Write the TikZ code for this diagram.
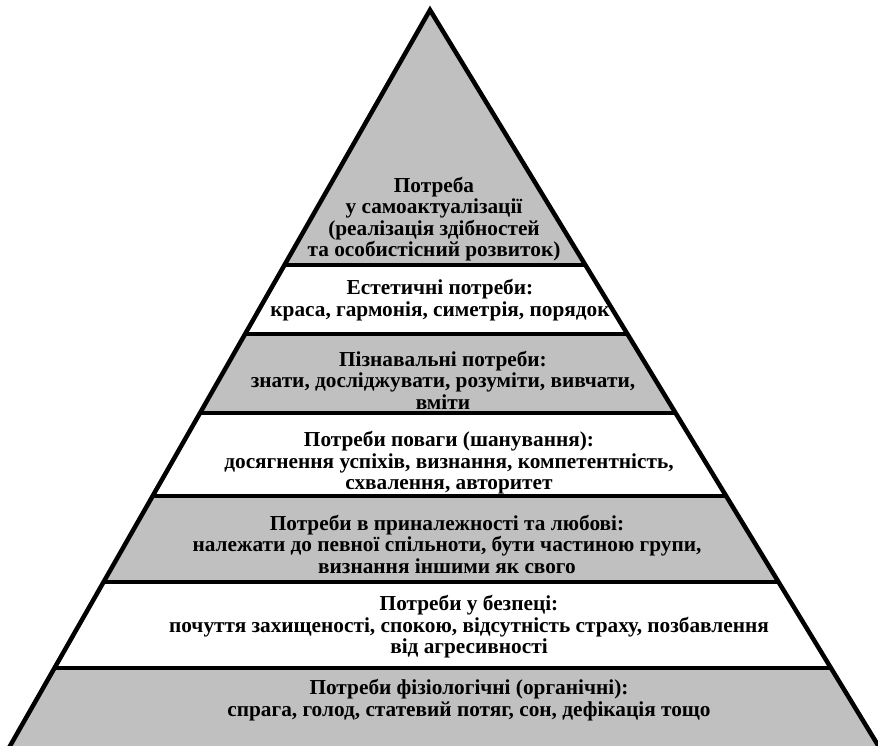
\documentclass[tikz,border=0pt]{standalone}
\usepackage{fontspec}
\setmainfont{Liberation Serif}
\definecolor{pyrgray}{RGB}{192,192,192}
\tikzset{
  tier/.style={font=\bfseries\fontsize{21.3}{21.5}\selectfont, align=center, inner sep=0pt},
  edge line/.style={line width=4.5pt, line join=miter}
}

\begin{document}
\begin{tikzpicture}[x=1pt,y=-1pt]
  \useasboundingbox (0,0) rectangle (878,746);
  \clip (0,0) rectangle (878,746);
  \coordinate (apex) at (430,10);
  \coordinate (bl) at (2,760);
  \coordinate (br) at (887,760);
  \fill[pyrgray] (apex) -- (bl) -- (br) -- cycle;
  \begin{scope}
    \clip (apex) -- (bl) -- (br) -- cycle;
    \foreach \ya/\yb in {265/334, 413/496, 582/668}
      \fill[white] (0,\ya) rectangle (878,\yb);
    \foreach \y in {265,334,413,496,582,668}
      \draw[edge line] (0,\y) -- (878,\y);
  \end{scope}
  \draw[edge line] (bl) -- (apex) -- (br);
  \node[tier] (selfact) at (434,219) {Потреба\\у самоактуалізації\\(реалізація здібностей\\та особистісний розвиток)};
  \node[tier] (aesth) at (440,300) {Естетичні потреби:\\краса, гармонія, симетрія, порядок};
  \node[tier] (cogn) at (443,380) {Пізнавальні потреби:\\знати, досліджувати, розуміти, вивчати,\\вміти};
  \node[tier] (esteem) at (449,463) {Потреби поваги (шанування):\\досягнення успіхів, визнання, компетентність,\\схвалення, авторитет};
  \node[tier] (belong) at (447,544) {Потреби в приналежності та любові:\\належати до певної спільноти, бути частиною групи,\\визнання іншими як свого};
  \node[tier] (safety) at (469,627) {Потреби у безпеці:\\почуття захищеності, спокою, відсутність страху, позбавлення\\від агресивності};
  \node[tier] (physio) at (469,700) {Потреби фізіологічні (органічні):\\спрага, голод, статевий потяг, сон, дефікація тощо};
\end{tikzpicture}
\end{document}
